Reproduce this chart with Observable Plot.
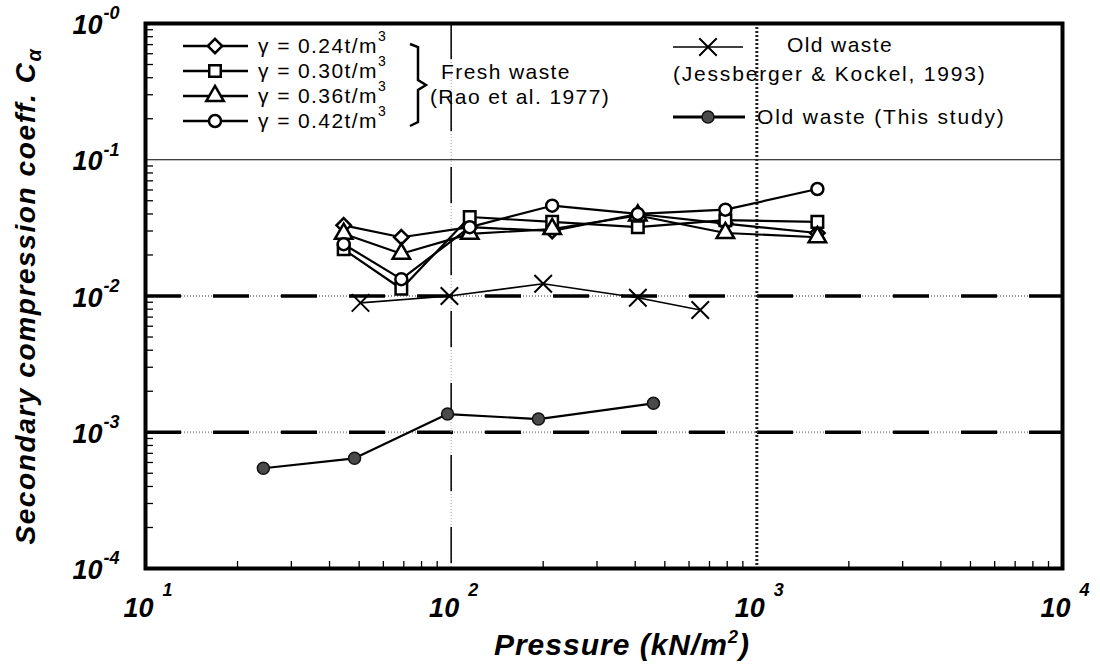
<!DOCTYPE html>
<html><head><meta charset="utf-8">
<script src="https://cdn.jsdelivr.net/npm/d3@7"></script>
<script src="https://cdn.jsdelivr.net/npm/@observablehq/plot@0.6"></script>
<style>
body{margin:0;background:#fff}
#chart{position:relative;width:1100px;height:667px}
text{font-family:"Liberation Sans",Arial,sans-serif}
</style>
</head><body><div id="chart"></div>
<script>
// ---- data ----
const pressure = [44.5, 68.7, 115, 214, 408, 789, 1578];          // kN/m2, fresh waste (Rao et al. 1977)
const gamma024 = [0.033, 0.027, 0.032, 0.030, 0.040, 0.034, 0.029];
const gamma030 = [0.022, 0.0113, 0.038, 0.035, 0.032, 0.036, 0.035];
const gamma036 = [0.0286, 0.0204, 0.0286, 0.031, 0.039, 0.029, 0.027];
const gamma042 = [0.024, 0.0133, 0.032, 0.046, 0.040, 0.043, 0.061];
const jessPressure = [50.5, 98.7, 200, 408, 653];                   // old waste (Jessberger & Kockel 1993)
const jessCa = [0.0089, 0.0100, 0.0123, 0.0097, 0.0079];
const studyPressure = [24.3, 48.3, 97.3, 193, 459];                 // old waste (this study)
const studyCa = [0.000544, 0.000644, 0.00136, 0.00125, 0.00163];
const xTicks = [10, 100, 1000, 10000];
const xExp = ["1", "2", "3", "4"];
const yTicks = [1e-4, 1e-3, 1e-2, 1e-1, 1];
const yExp = ["-4", "-3", "-2", "-1", "-0"];
const freshLabels = ["γ = 0.24t/m", "γ = 0.30t/m", "γ = 0.36t/m", "γ = 0.42t/m"];
const freshSymbols = ["diamond2", "square", "triangle", "circle"];
const freshSeries = [gamma024, gamma030, gamma036, gamma042];

// tables built from the arrays
const freshRows = freshSeries.flatMap((vals, i) => vals.map((v, j) => ({s: i, p: pressure[j], c: v})));
const jessRows = jessPressure.map((p, i) => ({p, c: jessCa[i]}));
const studyRows = studyPressure.map((p, i) => ({p, c: studyCa[i]}));
const minorX = [10, 100, 1000].flatMap(d => d3.range(2, 10).map(k => k * d));
const minorY = [1e-4, 1e-3, 1e-2, 1e-1].flatMap(d => d3.range(2, 10).map(k => k * d));
const xTickRows = xTicks.map((v, i) => ({v, e: xExp[i]}));
const yTickRows = yTicks.map((v, i) => ({v, e: yExp[i]}));

const FONT = '"Liberation Sans", Arial, sans-serif';
const mk = [];
// grid lines
mk.push(Plot.ruleY([yTicks[3]], {y: d => d, stroke: "#000", strokeWidth: 1.2}));
mk.push(Plot.ruleY([yTicks[1], yTicks[2]], {y: d => d, stroke: "#999", strokeWidth: 2, strokeDasharray: "1,2"}));
mk.push(Plot.ruleY([yTicks[1], yTicks[2]], {y: d => d, stroke: "#000", strokeWidth: 3.5, strokeDasharray: "36,32"}));
mk.push(Plot.ruleX([xTicks[1]], {x: d => d, stroke: "#aaa", strokeWidth: 1, strokeDasharray: "1,2"}));
mk.push(Plot.ruleX([xTicks[1]], {x: d => d, stroke: "#000", strokeWidth: 1.5, strokeDasharray: "36,36"}));
mk.push(Plot.ruleX([xTicks[2]], {x: d => d, stroke: "#222", strokeWidth: 3, strokeDasharray: "2,2"}));
// minor ticks (inside the frame, on the bottom and left edges)
mk.push(Plot.tickX(minorX, {x: d => d, stroke: "#000", strokeWidth: 1.3, insetTop: 538}));
mk.push(Plot.tickY(minorY, {y: d => d, stroke: "#000", strokeWidth: 1.3, insetRight: 909}));
// series
mk.push(Plot.line(studyRows, {x: "p", y: "c", stroke: "#000", strokeWidth: 2.2}));
mk.push(Plot.line(jessRows, {x: "p", y: "c", stroke: "#000", strokeWidth: 1.6}));
mk.push(Plot.line(freshRows, {x: "p", y: "c", z: "s", stroke: "#000", strokeWidth: 2.2}));
freshSymbols.forEach((sym, i) => {
  mk.push(Plot.dot(freshRows.filter(d => d.s === i), {x: "p", y: "c", symbol: sym, r: sym === "circle" ? 6 : 6.5, fill: "#fff", stroke: "#000", strokeWidth: 2.5}));
});
mk.push(Plot.dot(jessRows, {x: "p", y: "c", symbol: "times", r: 8, stroke: "#000", strokeWidth: 2}));
mk.push(Plot.dot(studyRows, {x: "p", y: "c", r: 6, fill: "#4a4a4a", stroke: "#111", strokeWidth: 1.5}));
// frame
mk.push(Plot.frame({stroke: "#000", strokeWidth: 4}));
// tick labels (10 + superscript exponent)
mk.push(Plot.text(xTickRows, {x: "v", text: () => "10", frameAnchor: "bottom", textAnchor: "end", dx: 8, dy: 40, lineAnchor: "middle", fontSize: 27, fontWeight: "bold", fontStyle: "italic", fill: "#000"}));
mk.push(Plot.text(xTickRows, {x: "v", text: "e", frameAnchor: "bottom", textAnchor: "start", dx: 17, dy: 22, lineAnchor: "middle", fontSize: 18, fontWeight: "bold", fontStyle: "italic", fill: "#000"}));
mk.push(Plot.text(yTickRows, {y: "v", text: () => "10", frameAnchor: "left", textAnchor: "end", dx: -43, dy: 2, lineAnchor: "middle", fontSize: 27, fontWeight: "bold", fontStyle: "italic", fill: "#000"}));
mk.push(Plot.text(yTickRows, {y: "v", text: "e", frameAnchor: "left", textAnchor: "start", dx: -42, dy: -10, lineAnchor: "middle", fontSize: 18, fontWeight: "bold", fontStyle: "italic", fill: "#000"}));

const svgEl = Plot.plot({
  width: 1100, height: 667,
  marginLeft: 145, marginRight: 38, marginTop: 23, marginBottom: 99,
  style: {fontFamily: FONT, background: "#fff", overflow: "visible"},
  x: {type: "log", domain: [10, 10000], axis: null},
  y: {type: "log", domain: [1e-4, 1], axis: null},
  marks: mk
});
document.getElementById("chart").appendChild(svgEl);

// ---- axis titles and legend ----
const svg = d3.select(svgEl);
const yt = svg.append("text")
  .attr("transform", "translate(35,296) rotate(-90)")
  .attr("text-anchor", "middle")
  .attr("font-size", 28).attr("font-weight", "bold").attr("font-style", "italic")
  .attr("letter-spacing", 1.6).attr("font-family", FONT).attr("fill", "#000");
yt.append("tspan").text("Secondary compression coeff. C");
yt.append("tspan").attr("font-size", 20).attr("dy", 6).text("α");

const xt = svg.append("text")
  .attr("x", 622).attr("y", 655)
  .attr("text-anchor", "middle")
  .attr("font-size", 30).attr("font-weight", "bold").attr("font-style", "italic")
  .attr("letter-spacing", 1).attr("font-family", FONT).attr("fill", "#000");
xt.append("tspan").text("Pressure (kN/m");
xt.append("tspan").attr("font-size", 18).attr("dy", -12).text("2");
xt.append("tspan").attr("dy", 12).text(")");

const lg = svg.append("g").attr("font-family", FONT).attr("fill", "#000").attr("text-anchor", "start");
const symType = {diamond2: d3.symbolDiamond2, square: d3.symbolSquare, triangle: d3.symbolTriangle, circle: d3.symbolCircle};
const rowY = [46, 71, 96, 121];
freshLabels.forEach((lab, i) => {
  const y = rowY[i];
  lg.append("line").attr("x1", 183).attr("x2", 248).attr("y1", y).attr("y2", y).attr("stroke", "#000").attr("stroke-width", 2.5);
  const r = freshSymbols[i] === "circle" ? 6 : 6.5;
  lg.append("path").attr("d", d3.symbol(symType[freshSymbols[i]], r * r * Math.PI)())
    .attr("transform", `translate(215,${y})`).attr("fill", "#fff").attr("stroke", "#000").attr("stroke-width", 2.5);
  const t = lg.append("text").attr("x", 258).attr("y", y + 7).attr("font-size", 21).attr("letter-spacing", 1.4).attr("text-anchor", "start");
  t.append("tspan").text(lab);
  t.append("tspan").attr("font-size", 14).attr("dy", -12).text("3");
});
lg.append("path").attr("d", "M410,44 L418,47 L418,80 L426,85 L418,90 L418,122 L410,126")
  .attr("fill", "none").attr("stroke", "#000").attr("stroke-width", 2.5);
lg.append("text").attr("x", 506).attr("y", 79).attr("text-anchor", "middle").attr("font-size", 21).attr("letter-spacing", 1.4).text("Fresh waste");
lg.append("text").attr("x", 520).attr("y", 104).attr("text-anchor", "middle").attr("font-size", 21).attr("letter-spacing", 1.4).text("(Rao et al. 1977)");

lg.append("line").attr("x1", 673).attr("x2", 743).attr("y1", 47).attr("y2", 47).attr("stroke", "#000").attr("stroke-width", 1.6);
lg.append("path").attr("d", d3.symbol(d3.symbolTimes, 64 * Math.PI)()).attr("transform", "translate(708,47)")
  .attr("fill", "none").attr("stroke", "#000").attr("stroke-width", 2);
lg.append("text").attr("x", 787).attr("y", 52).attr("text-anchor", "start").attr("font-size", 21).attr("letter-spacing", 1.4).text("Old waste");
lg.append("text").attr("x", 673).attr("y", 81).attr("text-anchor", "start").attr("font-size", 21).attr("letter-spacing", 1.8).text("(Jessberger & Kockel, 1993)");
lg.append("line").attr("x1", 673).attr("x2", 745).attr("y1", 117).attr("y2", 117).attr("stroke", "#000").attr("stroke-width", 3);
lg.append("path").attr("d", d3.symbol(d3.symbolCircle, 36 * Math.PI)()).attr("transform", "translate(708,117)")
  .attr("fill", "#4a4a4a").attr("stroke", "#111").attr("stroke-width", 1.5);
lg.append("text").attr("x", 757).attr("y", 124).attr("text-anchor", "start").attr("font-size", 21).attr("letter-spacing", 1.8).text("Old waste (This study)");
</script>
</body></html>
